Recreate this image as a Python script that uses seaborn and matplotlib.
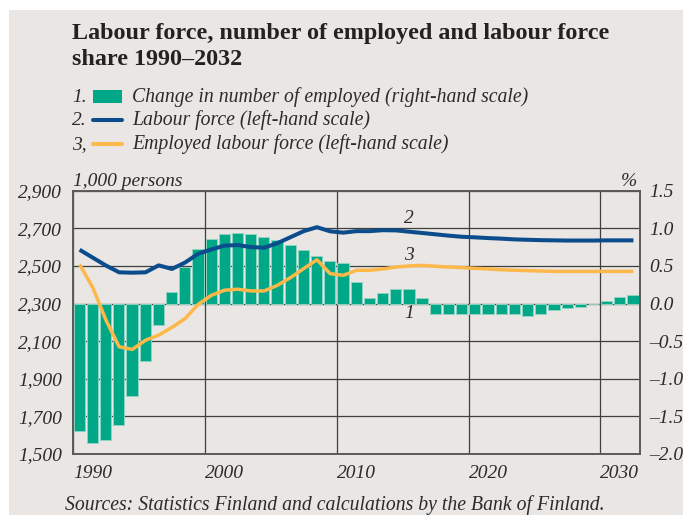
import matplotlib
matplotlib.use("Agg")
import matplotlib.pyplot as plt
from matplotlib.patches import Rectangle
from matplotlib.lines import Line2D
import numpy as np
import pandas as pd
import seaborn as sns

# ---- data -------------------------------------------------------------
years = list(range(1990, 2033))

# Change in number of employed, % (right-hand scale)
employed_change = [
    -1.69, -1.85, -1.82, -1.61, -1.23, -0.76, -0.28,
    0.15, 0.49, 0.73, 0.86, 0.93, 0.94, 0.92, 0.88, 0.84, 0.78, 0.71, 0.63, 0.56,
    0.54, 0.29, 0.08, 0.14, 0.19, 0.19, 0.08,
    -0.14, -0.14, -0.14, -0.14, -0.14, -0.14, -0.14, -0.17, -0.14, -0.09, -0.06, -0.04, 0.0,
    0.04, 0.09, 0.11,
]

# Labour force, 1,000 persons (left-hand scale)
labour_force = [
    2586, 2544, 2502, 2466, 2464, 2466, 2503, 2484, 2518, 2565,
    2588, 2608, 2611, 2600, 2597, 2621, 2653, 2685, 2706, 2684,
    2677, 2685, 2685, 2690, 2689, 2682, 2675, 2668, 2661, 2655,
    2652, 2648, 2645, 2641, 2639, 2637, 2636, 2635, 2635, 2635,
    2636, 2636, 2636,
]

# Employed labour force, 1,000 persons (left-hand scale)
employed = [
    2508, 2385, 2212, 2070, 2056, 2105, 2132, 2173, 2220, 2296,
    2344, 2371, 2376, 2367, 2367, 2397, 2438, 2486, 2533, 2459,
    2450, 2477, 2477, 2484, 2494, 2500, 2503, 2498, 2494, 2491,
    2487, 2484, 2480, 2477, 2475, 2473, 2471, 2471, 2471, 2471,
    2471, 2471, 2471,
]

left_ticks = [1500, 1700, 1900, 2100, 2300, 2500, 2700, 2900]
left_tick_labels = ["1,500", "1,700", "1,900", "2,100", "2,300", "2,500", "2,700", "2,900"]
right_ticks = [-2.0, -1.5, -1.0, -0.5, 0.0, 0.5, 1.0, 1.5]
right_tick_labels = ["–2.0", "–1.5", "–1.0", "–0.5", "0.0", "0.5", "1.0", "1.5"]
x_ticks = [1990, 2000, 2010, 2020, 2030]
x_tick_labels = ["1990", "2000", "2010", "2020", "2030"]

title = "Labour force, number of employed and labour force\nshare 1990–2032"
legend_items = [
    ("1.", "Change in number of employed (right-hand scale)"),
    ("2.", "Labour force (left-hand scale)"),
    ("3,", "Employed labour force (left-hand scale)"),
]
source = "Sources: Statistics Finland and calculations by the Bank of Finland."

# ---- style ------------------------------------------------------------
BG = "#E9E6E3"
GREEN = "#00A888"
GREEN_EDGE = "#8FD3C2"
BLUE = "#0B4C8C"
ORANGE = "#FDB849"
GRID = "#3F3F3F"
SPINE = "#5A5A5A"
TEXT = "#2B2B2B"

sns.set_theme(style="white")
plt.rcParams["font.family"] = ["Liberation Serif", "DejaVu Serif"]

W, H = 683, 515
fig = plt.figure(figsize=(W / 100, H / 100), dpi=100, facecolor="white")


def fx(px):
    return px / W


def fy(py):
    return 1 - py / H


# grey panel behind everything
fig.patches.append(Rectangle((fx(9), 0), 1, fy(10), transform=fig.transFigure,
                             facecolor=BG, edgecolor="none", zorder=-10))

df = pd.DataFrame({
    "year": years,
    "pos": np.array(years) + 0.475,
    "mid": np.array(years) + 0.5,
    "change": employed_change,
    "labour": labour_force,
    "employed": employed,
})

# bars live on the base axes (right-hand scale), lines on the twin (left-hand scale)
ax = fig.add_axes([fx(73), fy(454), fx(640) - fx(73), fy(190.7) - fy(454)])
ax.set_facecolor(BG)
sns.barplot(data=df, x="pos", y="change", native_scale=True, width=0.85,
            color=GREEN, saturation=1, edgecolor=GREEN_EDGE, linewidth=0.7,
            ax=ax, zorder=2)
ax.set_xlim(1990, 2033)
ax.set_ylim(-2.0, 1.5)
ax.set_xlabel("")
ax.set_ylabel("")

ax2 = ax.twinx()
sns.lineplot(data=df, x="mid", y="labour", ax=ax2, color=BLUE, linewidth=2.9,
             solid_capstyle="butt", zorder=3)
sns.lineplot(data=df, x="mid", y="employed", ax=ax2, color=ORANGE, linewidth=2.5,
             solid_capstyle="butt", zorder=3)
ax2.set_ylim(1500, 2900)
ax2.set_xlim(1990, 2033)
ax2.set_xlabel("")
ax2.set_ylabel("")

# axes sides: left-hand scale on the line axes, right-hand scale on the bar axes
ax.yaxis.tick_right()
ax2.yaxis.tick_left()
ax.set_yticks(right_ticks)
ax.set_yticklabels(right_tick_labels)
ax2.set_yticks(left_ticks)
ax2.set_yticklabels(left_tick_labels)
ax.set_xticks(x_ticks)
ax.set_xticklabels(x_tick_labels)
for lab in ax.get_xticklabels():
    lab.set_ha("left")

label_kw = dict(labelsize=14, colors=TEXT, length=0)
ax.tick_params(axis="x", pad=8, **label_kw)
ax.tick_params(axis="y", pad=6.5, **label_kw)
ax2.tick_params(axis="y", pad=8, **label_kw)
for lab in ax.get_xticklabels() + ax.get_yticklabels() + ax2.get_yticklabels():
    lab.set_fontstyle("italic")

ax.grid(True, axis="both", color=GRID, linewidth=0.9)
ax.set_axisbelow(True)
for a in (ax, ax2):
    for s in a.spines.values():
        s.set_color(SPINE)
        s.set_linewidth(1.2)

# series numbers
ax2.text(2015.5, 2752, "2", ha="center", va="center", fontsize=14,
         fontstyle="italic", color=TEXT)
ax2.text(2015.5, 2556, "3", ha="center", va="center", fontsize=14,
         fontstyle="italic", color=TEXT)
ax2.text(2015.5, 2249, "1", ha="center", va="center", fontsize=14,
         fontstyle="italic", color=TEXT)

# units
fig.text(fx(73), fy(186), "1,000 persons", ha="left", va="baseline",
         fontsize=14, fontstyle="italic", color=TEXT)
fig.text(fx(637), fy(186), "%", ha="right", va="baseline",
         fontsize=14, fontstyle="italic", color=TEXT)

# title (baseline given for the last line)
fig.text(fx(72), fy(65), title, ha="left", va="baseline", fontsize=17.4,
         fontweight="bold", color="#222222", linespacing=1.32)

# legend
for i, (num, text) in enumerate(legend_items):
    base = 102 + i * 23.5
    fig.text(fx(72), fy(base), num, ha="left", va="baseline", fontsize=14,
             fontstyle="italic", color=TEXT)
    fig.text(fx(132), fy(base), text, ha="left", va="baseline", fontsize=14.2,
             fontstyle="italic", color=TEXT)
    mid = base - 5.5
    if i == 0:
        fig.patches.append(Rectangle((fx(93), fy(mid + 6)), fx(122) - fx(93), fy(mid - 6) - fy(mid + 6),
                                     transform=fig.transFigure, facecolor=GREEN,
                                     edgecolor="none"))
    else:
        fig.lines.append(Line2D([fx(93), fx(122)], [fy(mid), fy(mid)],
                                transform=fig.transFigure,
                                color=BLUE if i == 1 else ORANGE, linewidth=2.9))

# source note
fig.text(fx(65), fy(510), source, ha="left", va="baseline", fontsize=14.2,
         fontstyle="italic", color=TEXT)

fig.savefig("out.png", dpi=100, facecolor=fig.get_facecolor())
